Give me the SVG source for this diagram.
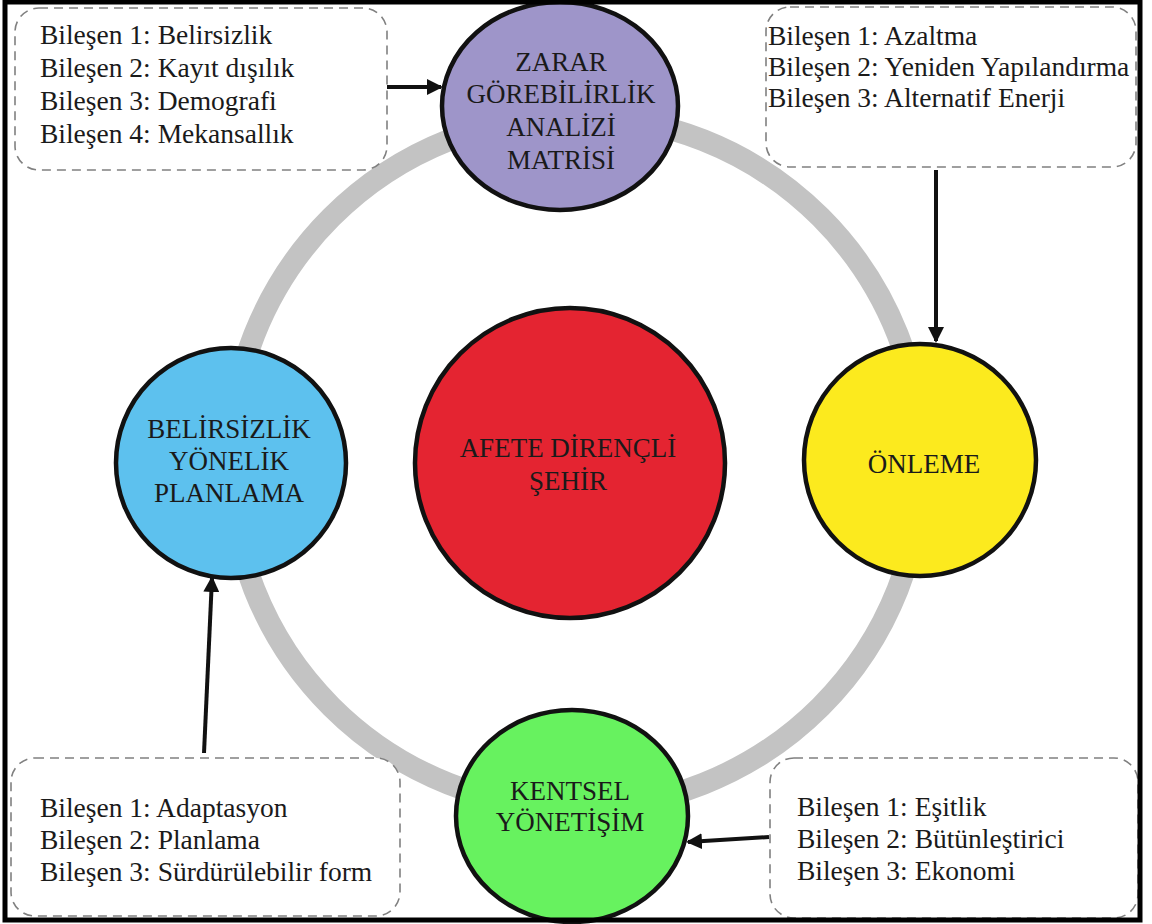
<svg xmlns="http://www.w3.org/2000/svg" width="1152" height="924" viewBox="0 0 1152 924">
<style>
.box{fill:#fff;stroke:#808080;stroke-width:1.6;stroke-dasharray:9 6}
.t{font-family:"Liberation Serif","Times New Roman",serif;font-size:27.5px;fill:#1a1a1a}
.c{font-family:"Liberation Serif","Times New Roman",serif;font-size:27px;fill:#1a1a1a;text-anchor:middle}
.node{stroke:#111;stroke-width:4.5}
.arr{stroke:#111;stroke-width:4;fill:none;marker-end:url(#ah)}
</style>
<defs>
<marker id="ah" markerWidth="16" markerHeight="16" refX="14" refY="8" orient="auto" markerUnits="userSpaceOnUse" viewBox="0 0 16 16">
<path d="M0,0 L16,8 L0,16 Z" fill="#111"/>
</marker>
</defs>
<rect x="0" y="0" width="1152" height="924" fill="#fff"/>
<circle cx="576" cy="462" r="346" fill="none" stroke="#c3c3c3" stroke-width="22"/>
<g id="box-tl">
<rect class="box" x="15" y="8" width="372" height="162" rx="24"/>
<text class="t" x="40" y="44">Bileşen 1: Belirsizlik</text>
<text class="t" x="40" y="77">Bileşen 2: Kayıt dışılık</text>
<text class="t" x="40" y="110">Bileşen 3: Demografi</text>
<text class="t" x="40" y="143">Bileşen 4: Mekansallık</text>
</g>
<g id="box-tr">
<rect class="box" x="766" y="7" width="370" height="160" rx="24"/>
<text class="t" x="768" y="45">Bileşen 1: Azaltma</text>
<text class="t" x="768" y="76">Bileşen 2: Yeniden Yapılandırma</text>
<text class="t" x="768" y="107">Bileşen 3: Alternatif Enerji</text>
</g>
<g id="box-bl">
<rect class="box" x="11" y="758" width="389" height="158" rx="24"/>
<text class="t" x="40" y="817">Bileşen 1: Adaptasyon</text>
<text class="t" x="40" y="849">Bileşen 2: Planlama</text>
<text class="t" x="40" y="881">Bileşen 3: Sürdürülebilir form</text>
</g>
<g id="box-br">
<rect class="box" x="770" y="758" width="368" height="160" rx="24"/>
<text class="t" x="797" y="816">Bileşen 1: Eşitlik</text>
<text class="t" x="797" y="848">Bileşen 2: Bütünleştirici</text>
<text class="t" x="797" y="880">Bileşen 3: Ekonomi</text>
</g>
<g id="connectors">
<line class="arr" x1="387" y1="87" x2="441" y2="87"/>
<line class="arr" x1="936" y1="170" x2="936" y2="341"/>
<line class="arr" x1="769" y1="837" x2="688" y2="842"/>
<line class="arr" x1="204" y1="753" x2="212" y2="578"/>
</g>
<g id="node-top">
<ellipse class="node" cx="560" cy="106" rx="118" ry="104" fill="#9e95c9"/>
<text class="c" x="561" y="71">ZARAR</text>
<text class="c" x="561" y="103">GÖREBİLİRLİK</text>
<text class="c" x="561" y="136">ANALİZİ</text>
<text class="c" x="561" y="169">MATRİSİ</text>
</g>
<g id="node-right">
<circle class="node" cx="920" cy="460" r="116" fill="#fcea1e"/>
<text class="c" x="924" y="473">ÖNLEME</text>
</g>
<g id="node-left">
<circle class="node" cx="231" cy="463" r="115" fill="#5dc1ee"/>
<text class="c" x="229" y="438">BELİRSİZLİK</text>
<text class="c" x="229" y="470">YÖNELİK</text>
<text class="c" x="229" y="502">PLANLAMA</text>
</g>
<g id="node-center">
<circle class="node" cx="570" cy="463" r="155" fill="#e42431"/>
<text class="c" x="568" y="457">AFETE DİRENÇLİ</text>
<text class="c" x="568" y="490">ŞEHİR</text>
</g>
<g id="node-bottom">
<ellipse class="node" cx="572" cy="816" rx="116" ry="106" fill="#67f25f"/>
<text class="c" x="570" y="800">KENTSEL</text>
<text class="c" x="570" y="831">YÖNETİŞİM</text>
</g>
<rect x="5" y="2" width="1135" height="918" fill="none" stroke="#000" stroke-width="5"/>
</svg>
